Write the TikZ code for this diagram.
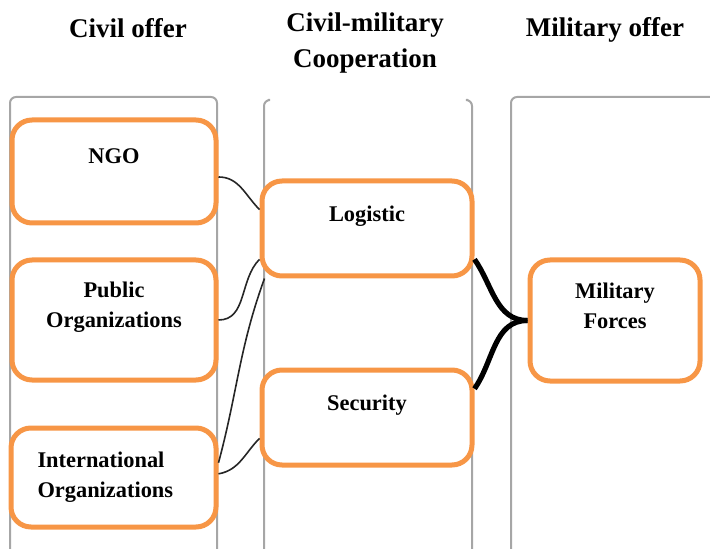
\documentclass[tikz,border=0pt]{standalone}
\usepackage{fontspec}
\setmainfont{Liberation Serif}
\definecolor{lanegray}{HTML}{A6A6A6}
\definecolor{offerorange}{HTML}{F79646}
\tikzset{
  lane/.style={draw=lanegray, line width=1pt, rounded corners=3pt},
  offer/.style={draw=offerorange, line width=2.5pt, rounded corners=10pt, fill=white,
    align=center, inner sep=2pt, font=\bfseries\fontsize{11.2}{15}\selectfont},
  lift/.style={text depth=15pt},
  link/.style={draw=black!85, line width=0.8pt},
  biglink/.style={draw=black, line width=2.6pt},
  heading/.style={font=\bfseries\fontsize{13.5}{18}\selectfont, align=center}
}

\begin{document}
\begin{tikzpicture}[x=0.5pt, y=-0.5pt]
\useasboundingbox (0,0) rectangle (710,549);

% column frames
\draw[lane] (10,560) -- (10,97) -- (217,97) -- (217,560);
\draw[lane] (268,100) -- (264,100) -- (264,560);
\draw[lane] (468,100) -- (472,100) -- (472,560);
\draw[lane] (511,560) -- (511,97) -- (720,97);

% headings
\node[heading] (civil) at (128,28) {Civil offer};
\node[heading] (cimic) at (365,43) {Civil-military\\Cooperation};
\node[heading] (mil) at (605,30) {Military offer};

% civil side
\node[offer, lift, minimum width=102pt, minimum height=51.5pt] (ngo) at (114,171.5) {NGO};
\node[offer, lift, minimum width=102pt, minimum height=60pt] (public) at (114,320) {Public\\Organizations};
\node[offer, align=left, text width=76pt, minimum width=102.5pt, minimum height=49.5pt] (intl) at (113.5,477.5) {International\\Organizations};

% cooperation
\node[offer, lift, minimum width=105pt, minimum height=47.5pt] (logistic) at (367,228.5) {Logistic};
\node[offer, lift, minimum width=105pt, minimum height=47.5pt] (security) at (367,417.5) {Security};

% military side
\node[offer, lift, minimum width=85pt, minimum height=60.5pt] (military) at (615,320.5) {Military\\Forces};

% links
\draw[link] (ngo.-3) to[out=0, in=135] (logistic.170);
\draw[link] (public.east) to[out=0, in=225] (logistic.196);
\draw[link] (intl.8) to[out=75, in=250] (logistic.206);
\draw[link] (intl.2) to[out=10, in=225] (security.191);
\draw[biglink] (logistic.-16) to[out=-55, in=180] (military.west);
\draw[biglink] (security.15) to[out=55, in=180] (military.west);
\end{tikzpicture}
\end{document}
